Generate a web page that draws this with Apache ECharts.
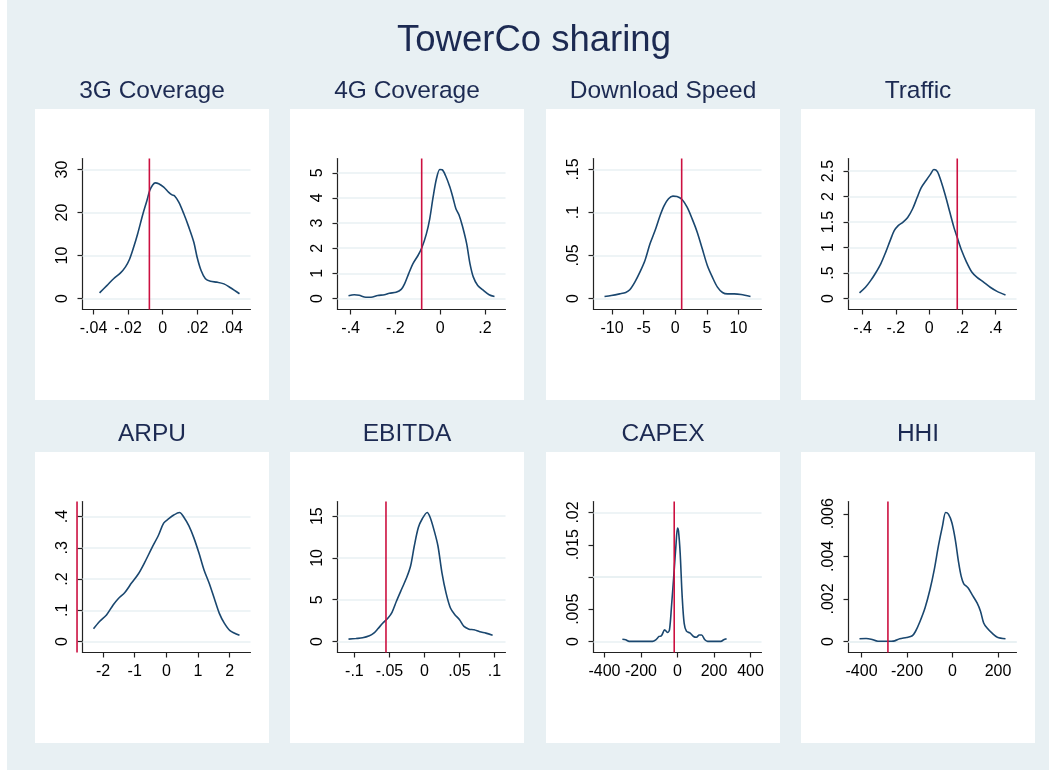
<!DOCTYPE html>
<html><head><meta charset="utf-8">
<script src="https://cdn.jsdelivr.net/npm/echarts@6/dist/echarts.min.js"></script>
<style>html,body{margin:0;padding:0;background:#fff}#c{width:1049px;height:770px}</style>
</head><body><div id="c"></div>
<script>
// ---------------- DATA ----------------
const mainTitle = 'TowerCo sharing';
const panelTitles = ['3G Coverage','4G Coverage','Download Speed','Traffic','ARPU','EBITDA','CAPEX','HHI'];

// 3G Coverage
const cov3gX = [-0.0365,-0.0323,-0.0284,-0.0245,-0.0216,-0.0191,-0.0168,-0.0145,-0.0114,-0.0091,-0.0075,-0.0058,-0.0043,-0.0023,0.0006,0.0035,0.0054,0.0068,0.0093,0.0122,0.0151,0.018,0.0199,0.0222,0.0247,0.0276,0.0315,0.0354,0.0392,0.0444];
const cov3gY = [1.3,3.0,4.6,5.9,7.3,9.2,11.9,15.0,19.7,22.8,25.1,26.4,26.9,26.7,25.9,24.7,24.1,23.9,22.4,19.7,16.6,13.1,9.6,6.5,4.6,4.0,3.8,3.4,2.5,1.1];
const cov3gXTicks = [-0.04,-0.02,0,0.02,0.04];
const cov3gXLabels = ['-.04','-.02','0','.02','.04'];
const cov3gYTicks = [0,10,20,30];
const cov3gYLabels = ['0','10','20','30'];

// 4G Coverage
const cov4gX = [-0.4096,-0.384,-0.362,-0.332,-0.309,-0.279,-0.249,-0.227,-0.197,-0.174,-0.159,-0.141,-0.122,-0.099,-0.081,-0.0615,-0.0465,-0.0315,-0.0165,-0.0015,0.009,0.024,0.0435,0.0585,0.0705,0.084,0.099,0.1185,0.1335,0.1485,0.168,0.1935,0.219,0.243];
const cov4gY = [0.11,0.15,0.13,0.05,0.05,0.12,0.15,0.21,0.25,0.36,0.58,0.98,1.38,1.71,2.04,2.57,3.17,4.03,4.76,5.13,5.12,4.89,4.43,3.97,3.57,3.33,2.90,2.18,1.38,0.85,0.52,0.32,0.15,0.08];
const cov4gXTicks = [-0.4,-0.2,0,0.2];
const cov4gXLabels = ['-.4','-.2','0','.2'];
const cov4gYTicks = [0,1,2,3,4,5];
const cov4gYLabels = ['0','1','2','3','4','5'];

// Download Speed
const dlX = [-11.2,-10.13,-8.8,-7.84,-7.2,-6.4,-5.6,-4.8,-4.0,-3.2,-2.4,-1.76,-1.07,-0.37,0.27,1.07,1.87,2.67,3.47,4.27,5.07,5.87,6.67,7.47,8.27,9.33,10.4,11.9];
const dlY = [0.0023,0.0035,0.0054,0.0070,0.0101,0.019,0.0306,0.0442,0.0636,0.079,0.0965,0.108,0.1159,0.119,0.1186,0.1151,0.1062,0.0926,0.0771,0.0578,0.0384,0.0248,0.0132,0.0070,0.0054,0.0054,0.0047,0.0023];
const dlXTicks = [-10,-5,0,5,10];
const dlXLabels = ['-10','-5','0','5','10'];
const dlYTicks = [0,0.05,0.1,0.15];
const dlYLabels = ['0','.05','.1','.15'];

// Traffic
const trafX = [-0.419,-0.383,-0.352,-0.322,-0.291,-0.261,-0.234,-0.210,-0.186,-0.160,-0.129,-0.099,-0.072,-0.048,-0.017,0.009,0.029,0.05,0.074,0.098,0.125,0.149,0.169,0.196,0.226,0.257,0.287,0.328,0.368,0.409,0.46];
const trafY = [0.11,0.22,0.35,0.50,0.68,0.91,1.14,1.33,1.43,1.49,1.59,1.76,1.98,2.17,2.32,2.44,2.53,2.49,2.28,2.02,1.69,1.40,1.20,0.94,0.71,0.52,0.42,0.32,0.22,0.14,0.07];
const trafXTicks = [-0.4,-0.2,0,0.2,0.4];
const trafXLabels = ['-.4','-.2','0','.2','.4'];
const trafYTicks = [0,0.5,1,1.5,2,2.5];
const trafYLabels = ['0','.5','1','1.5','2','2.5'];

// ARPU
const arpuX = [-2.30,-2.11,-1.89,-1.68,-1.52,-1.31,-1.10,-0.88,-0.67,-0.46,-0.245,-0.085,0.074,0.234,0.415,0.553,0.713,0.872,1.03,1.19,1.35,1.51,1.67,1.83,2.01,2.31];
const arpuY = [0.0405,0.064,0.085,0.117,0.137,0.157,0.187,0.217,0.256,0.299,0.341,0.379,0.393,0.405,0.413,0.398,0.370,0.331,0.283,0.229,0.187,0.139,0.091,0.059,0.035,0.020];
const arpuXTicks = [-2,-1,0,1,2];
const arpuXLabels = ['-2','-1','0','1','2'];
const arpuYTicks = [0,0.1,0.2,0.3,0.4];
const arpuYLabels = ['0','.1','.2','.3','.4'];

// EBITDA
const ebitdaX = [-0.1084,-0.0978,-0.0882,-0.0786,-0.0723,-0.0665,-0.0593,-0.0520,-0.0463,-0.0400,-0.0328,-0.0255,-0.0198,-0.0145,-0.0087,-0.0029,0.0039,0.0082,0.014,0.0193,0.025,0.0308,0.0371,0.0434,0.0501,0.0564,0.0636,0.0708,0.079,0.0877,0.0973];
const ebitdaY = [0.28,0.36,0.44,0.68,1.0,1.52,2.21,2.81,3.49,4.81,6.22,7.62,9.03,11.43,13.64,14.72,15.44,14.84,13.24,11.43,8.22,5.82,4.01,3.21,2.61,1.81,1.48,1.40,1.16,1.0,0.76];
const ebitdaXTicks = [-0.1,-0.05,0,0.05,0.1];
const ebitdaXLabels = ['-.1','-.05','0','.05','.1'];
const ebitdaYTicks = [0,5,10,15];
const ebitdaYLabels = ['0','5','10','15'];

// CAPEX
const capexX = [-302,-284,-265,-229,-183,-137,-119,-101,-88,-70,-55,-44,-33,-18,-9,0,5.5,14.6,25.6,36.6,49,69.6,88,104,119,132,150,165,201,238,253,269];
const capexY = [0.00036,0.00026,0.00002,0.00002,0.00002,0.00002,0.00026,0.00078,0.00088,0.0018,0.0014,0.0018,0.0054,0.0111,0.0147,0.0176,0.0171,0.0137,0.0070,0.0028,0.0016,0.0013,0.00078,0.00067,0.0010,0.0010,0.00026,0.00002,0.00002,0.00002,0.00026,0.00041];
const capexXTicks = [-400,-200,0,200,400];
const capexXLabels = ['-400','-200','0','200','400'];
const capexYTicks = [0,0.005,0.01,0.015,0.02];
const capexYLabels = ['0','.005','','.015','.02'];

// HHI
const hhiX = [-409,-380,-358,-328,-298,-269,-254,-232,-202,-177,-163,-143,-121,-99,-80,-62,-44,-30,-18,-3,12,27,38,49,68,86,108,123,137,152,174,197,233];
const hhiY = [0.000126,0.00014,0.00011,0.00001,0.00001,0.00001,0.00003,0.000126,0.00019,0.00027,0.00047,0.00094,0.00157,0.00244,0.00339,0.00449,0.00543,0.00606,0.00598,0.00559,0.0048,0.0037,0.00307,0.00272,0.00252,0.0022,0.00181,0.00142,0.00087,0.00063,0.00039,0.0002,0.000126];
const hhiXTicks = [-400,-200,0,200];
const hhiXLabels = ['-400','-200','0','200'];
const hhiYTicks = [0,0.002,0.004,0.006];
const hhiYLabels = ['0','.002','.004','.006'];

// Reference (vertical red) line values, one per panel
const refValues = [-0.0077,-0.0825,1.01,0.1695,-2.82,-0.0549,-18,-284];

// ---------------- LAYOUT / STYLE ----------------
const panels = [
  {x:cov3gX,y:cov3gY,xt:cov3gXTicks,xl:cov3gXLabels,yt:cov3gYTicks,yl:cov3gYLabels},
  {x:cov4gX,y:cov4gY,xt:cov4gXTicks,xl:cov4gXLabels,yt:cov4gYTicks,yl:cov4gYLabels},
  {x:dlX,y:dlY,xt:dlXTicks,xl:dlXLabels,yt:dlYTicks,yl:dlYLabels},
  {x:trafX,y:trafY,xt:trafXTicks,xl:trafXLabels,yt:trafYTicks,yl:trafYLabels},
  {x:arpuX,y:arpuY,xt:arpuXTicks,xl:arpuXLabels,yt:arpuYTicks,yl:arpuYLabels},
  {x:ebitdaX,y:ebitdaY,xt:ebitdaXTicks,xl:ebitdaXLabels,yt:ebitdaYTicks,yl:ebitdaYLabels},
  {x:capexX,y:capexY,xt:capexXTicks,xl:capexXLabels,yt:capexYTicks,yl:capexYLabels},
  {x:hhiX,y:hhiY,xt:hhiXTicks,xl:hhiXLabels,yt:hhiYTicks,yl:hhiYLabels}
];

const FONT = '"Liberation Sans", Arial, Helvetica, sans-serif';
const BG = '#e8f0f3';
const GRIDC = '#e8f0f3';
const NAVY = '#1a476f';
const RED = '#cc1040';
const TITLEC = '#1c2a52';
const panelLeft = [35, 290, 546, 801];
const rowTop = [109, 452];
const panelW = 234, panelH = 291;
const gOffX = 47.5, gOffY = 49.5, gW = 168, gH = 151, margin = 11;

function range(vals, ticks, size) {
  const lo = Math.min(Math.min(...vals), Math.min(...ticks));
  const hi = Math.max(Math.max(...vals), Math.max(...ticks));
  const pad = margin * (hi - lo) / (size - 2 * margin);
  return [lo - pad, hi + pad];
}
function labelFor(ticks, labels) {
  return function (v) {
    let best = 0, bd = Infinity;
    ticks.forEach((t, i) => { const d = Math.abs(t - v); if (d < bd) { bd = d; best = i; } });
    return labels[best];
  };
}

const graphic = [{type:'rect', shape:{x:7, y:0, width:1042, height:770}, style:{fill:BG}, z:-20}];
const titles = [{text: mainTitle, left: 534, top: 22, textAlign:'center', padding:0,
  textStyle:{fontFamily:FONT, fontSize:36.5, fontWeight:'normal', color:TITLEC}}];
const grids = [], xAxes = [], yAxes = [], series = [];

panels.forEach((p, i) => {
  const col = i % 4, row = Math.floor(i / 4);
  const px = panelLeft[col], py = rowTop[row];
  graphic.push({type:'rect', shape:{x:px, y:py, width:panelW, height:panelH}, style:{fill:'#fff'}, z:-10});
  titles.push({text: panelTitles[i], left: px + panelW / 2, top: py - 30, textAlign:'center', padding:0,
    textStyle:{fontFamily:FONT, fontSize:24.5, fontWeight:'normal', color:TITLEC}});
  grids.push({left: px + gOffX, top: py + gOffY, width: gW, height: gH});
  const xr = range(p.x, p.xt, gW), yr = range(p.y, p.yt, gH);
  xAxes.push({gridIndex:i, type:'value', min:xr[0], max:xr[1],
    axisLine:{show:true, onZero:false, lineStyle:{color:'#222', width:1.2}},
    axisTick:{show:true, length:5, customValues:p.xt, lineStyle:{color:'#222', width:1.2}},
    axisLabel:{customValues:p.xt, formatter:labelFor(p.xt, p.xl), fontFamily:FONT, fontSize:16, color:'#000', margin:11},
    splitLine:{show:false}});
  yAxes.push({gridIndex:i, type:'value', min:yr[0], max:yr[1],
    axisLine:{show:true, onZero:false, lineStyle:{color:'#222', width:1.2}},
    axisTick:{show:true, length:5, customValues:p.yt, lineStyle:{color:'#222', width:1.2}},
    axisLabel:{customValues:p.yt.filter((t, k) => p.yl[k] !== ''), formatter:labelFor(p.yt, p.yl), rotate:90,
      fontFamily:FONT, fontSize:16, color:'#000', margin:12},
    splitLine:{show:false}});
  series.push({type:'line', xAxisIndex:i, yAxisIndex:i, data:p.x.map((v, k) => [v, p.y[k]]),
    showSymbol:false, symbol:'none', smooth:0.3, lineStyle:{color:NAVY, width:1.6}, z:3, silent:true,
    markLine:{silent:true, symbol:['none','none'], label:{show:false}, z:1, animation:false,
      lineStyle:{color:GRIDC, width:1.6, type:'solid'}, data:p.yt.map(v => ({yAxis:v}))}});
  const yLo = yr[0], yHi = yr[1];
  series.push({type:'custom', xAxisIndex:i, yAxisIndex:i, clip:false, silent:true, z:4,
    data:[[refValues[i]]],
    renderItem: function (params, api) {
      const v = api.value(0);
      const a = api.coord([v, yLo]), b = api.coord([v, yHi]);
      return {type:'line', shape:{x1:a[0], y1:a[1], x2:b[0], y2:b[1]},
        style:{stroke:RED, lineWidth:1.6}};
    }});
});

const chart = echarts.init(document.getElementById('c'), null, {renderer:'canvas'});
chart.setOption({
  backgroundColor:'#fff', animation:false,
  title: titles, grid: grids, xAxis: xAxes, yAxis: yAxes, series: series, graphic: graphic
});
</script></body></html>
